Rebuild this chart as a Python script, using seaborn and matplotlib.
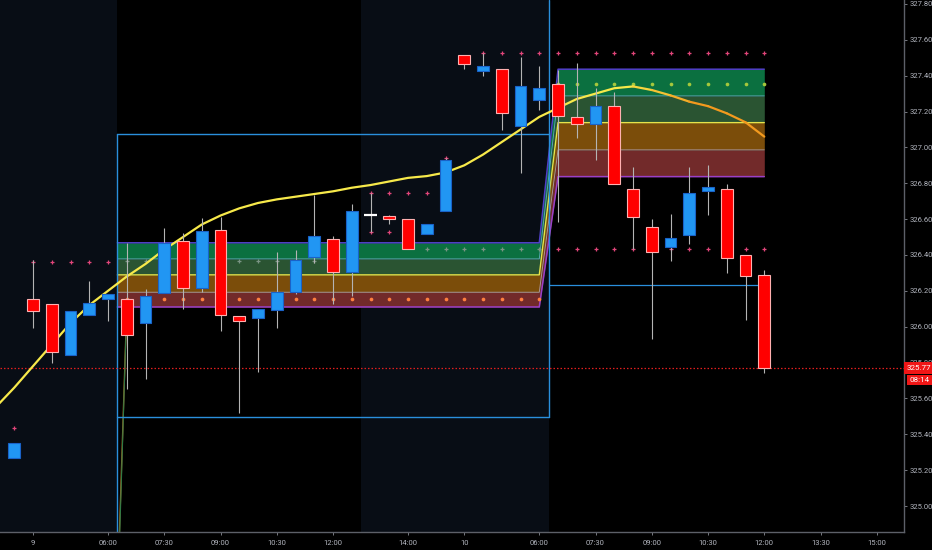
import numpy as np
import pandas as pd
import matplotlib
matplotlib.use("Agg")
import matplotlib.pyplot as plt
import seaborn as sns
from matplotlib.collections import LineCollection
from matplotlib.colors import to_rgb

# ---------------- data ----------------
bars = list(range(-5, 36))
opens = [325.27, 326.155, 326.124, 325.84, 326.065, 326.155,
         326.155, 326.02, 326.19, 326.476, 326.216, 326.537, 326.06, 326.046, 326.095, 326.194,
         326.389, 326.488, 326.305, 326.623, 326.62, 326.598, 326.515, 326.646, 327.515, 327.427,
         327.435, 327.122, 327.265, 327.353, 327.167, 327.13, 327.231, 326.77, 326.558, 326.447,
         326.51, 326.756, 326.77, 326.398, 326.29]
highs = [325.35, 326.372, 326.124, 326.09, 326.255, 326.184,
         326.468, 326.21, 326.55, 326.52, 326.607, 326.61, 326.06, 326.10, 326.417, 326.428,
         326.735, 326.507, 326.687, 326.748, 326.625, 326.598, 326.574, 326.94, 327.515, 327.525,
         327.435, 327.505, 327.454, 327.43, 327.47, 327.333, 327.31, 326.893, 326.60, 326.629,
         326.893, 326.902, 326.797, 326.398, 326.316]
lows = [325.27, 325.993, 325.80, 325.84, 326.065, 326.03,
        325.65, 325.71, 326.19, 326.10, 326.194, 325.976, 325.52, 325.75, 325.993, 326.18,
        326.355, 326.124, 326.17, 326.527, 326.57, 326.434, 326.515, 326.646, 327.435, 327.40,
        327.098, 326.857, 327.21, 326.585, 327.05, 326.928, 326.797, 326.434, 325.93, 326.364,
        326.462, 326.625, 326.302, 326.04, 325.74]
closes = [325.35, 326.09, 325.859, 326.09, 326.13, 326.184,
          325.954, 326.17, 326.467, 326.214, 326.534, 326.065, 326.03, 326.10, 326.192, 326.37,
          326.506, 326.305, 326.645, 326.623, 326.598, 326.434, 326.574, 326.928, 327.464, 327.454,
          327.192, 327.341, 327.333, 327.173, 327.131, 327.231, 326.797, 326.61, 326.417, 326.494,
          326.746, 326.78, 326.384, 326.284, 325.77]

ma_bars = list(range(-6, 36))
ma_vals = [325.55, 325.66, 325.78, 325.90, 326.02, 326.12, 326.20, 326.28, 326.35, 326.43,
           326.50, 326.57, 326.62, 326.66, 326.69, 326.71, 326.725, 326.74, 326.755, 326.775,
           326.79, 326.81, 326.83, 326.84, 326.86, 326.90, 326.96, 327.03, 327.10, 327.17,
           327.22, 327.27, 327.30, 327.33, 327.34, 327.32, 327.29, 327.255, 327.23, 327.19,
           327.14, 327.06]

tick_bars = [-4, 0, 3, 6, 9, 12, 16, 19, 23, 26, 29, 32, 35, 38, 41]
tick_labels = ["9", "06:00", "07:30", "09:00", "10:30", "12:00", "14:00", "10",
               "06:00", "07:30", "09:00", "10:30", "12:00", "13:30", "15:00"]
price_ticks = [325.0, 325.2, 325.4, 325.6, 325.8, 326.0, 326.2, 326.4, 326.6,
               326.8, 327.0, 327.2, 327.4, 327.6, 327.8]

zone1_levels = [326.468, 326.378, 326.289, 326.192, 326.110]
zone2_levels = [327.436, 327.287, 327.138, 326.986, 326.837]
zone1_bars = [0.5] + list(range(1, 24))
zone2_bars = list(range(24, 36))

box1 = {"x0": 0.5, "x1": 23.5, "top": 327.073, "bottom": 325.498}
box2 = {"x0": 23.5, "x1": 34.7, "bottom": 326.231}
shade_spans = [(-10, 0.5), (13.5, 23.5)]

pink_pts = ([(-5, 325.437)] + [(b, 326.363) for b in range(-4, 1)]
            + [(b, 326.748) for b in range(14, 18)] + [(b, 326.527) for b in (14, 15)]
            + [(18, 326.94)]
            + [(b, 327.525) for b in range(20, 36)] + [(b, 326.435) for b in range(24, 36)])
gray_pts = [(b, 326.366) for b in range(1, 14)] + [(b, 326.434) for b in range(17, 24)]
orange_pts = [(b, 326.155) for b in range(1, 24)]
lime_pts = [(b, 327.353) for b in range(24, 36)]

last_price = 325.77
countdown = "08:14"

# ---------------- style ----------------
sns.set_theme(style="dark", rc={"axes.facecolor": "black", "figure.facecolor": "black",
                                "savefig.facecolor": "black"})
plt.rcParams['font.family'] = ['Roboto', 'DejaVu Sans']

fig = plt.figure(figsize=(9.32, 5.5), dpi=100)
ax = fig.add_axes([0, 18 / 550, 904 / 932, 532 / 550])
ax.set_facecolor("black")
ax.set_xlim(-5.76, 42.45)
ax.set_ylim(324.855, 327.822)

for a, b in shade_spans:
    ax.axvspan(a, b, color="#080d15", lw=0, zorder=0)

# zones
band_fill = ['#0b7040', '#2a5432', '#7b4d0a', '#722a2a']
band_line = ['#5040c8', '#5aa6b0', '#e6e34a', '#a89498', '#9a40c8']
band_lw = [1.1, 0.7, 1.0, 0.7, 1.1]
zx = np.array(zone1_bars + zone2_bars, dtype=float)
levels = [np.array([zone1_levels[k]] * len(zone1_bars) + [zone2_levels[k]] * len(zone2_bars))
          for k in range(5)]
for k in range(4):
    ax.fill_between(zx, levels[k], levels[k + 1], color=band_fill[k], lw=0, zorder=1)
for k in range(5):
    ax.plot(zx, levels[k], color=band_line[k], lw=band_lw[k], zorder=1.2)
# entry sliver from prior session
ax.plot([0.0, 1.0], [322.9, zone1_levels[-1]], color="#b06a20", lw=1.0, zorder=1.1)
ax.plot([0.05, 1.0], [322.9, zone1_levels[-1]], color="#2f7a45", lw=0.8, zorder=1.1)

# range boxes
bc = "#2a8fdc"
ax.plot([box1["x0"], box1["x1"]], [box1["top"]] * 2, color=bc, lw=1.0, zorder=1.5)
ax.plot([box1["x0"], box1["x1"]], [box1["bottom"]] * 2, color=bc, lw=1.0, zorder=1.5)
ax.plot([box1["x0"]] * 2, [324.855, box1["top"]], color=bc, lw=1.0, zorder=1.5)
ax.plot([box1["x1"]] * 2, [box1["bottom"], 327.822], color=bc, lw=1.0, zorder=1.5)
ax.plot([box2["x0"], box2["x1"]], [box2["bottom"]] * 2, color=bc, lw=0.9, zorder=1.5)

# markers
def pts_df(pts):
    return pd.DataFrame(pts, columns=["bar", "price"])

sns.scatterplot(data=pts_df(pink_pts), x="bar", y="price", marker="+", s=9,
                color="#e2457a", linewidth=0.9, ax=ax, zorder=2, legend=False)
sns.scatterplot(data=pts_df(gray_pts), x="bar", y="price", marker="+", s=9,
                color="#7a9484", linewidth=0.9, ax=ax, zorder=2, legend=False)
sns.scatterplot(data=pts_df(orange_pts), x="bar", y="price", marker="o", s=7,
                color="#ff8040", linewidth=0, ax=ax, zorder=2, legend=False)
sns.scatterplot(data=pts_df(lime_pts), x="bar", y="price", marker="o", s=7,
                color="#a5c83c", linewidth=0, ax=ax, zorder=2, legend=False)

# last price line
ax.axhline(last_price, color="#e01e1e", lw=0.9, ls=(0, (1.2, 1.6)), zorder=2.2)

# moving average
ma = pd.DataFrame({"bar": ma_bars, "ma": ma_vals})
peak = int(np.argmax(ma_vals))
sns.lineplot(data=ma.iloc[:peak + 1], x="bar", y="ma", color="#f7e94a", lw=1.6,
             ax=ax, zorder=3, sort=False)
xs = np.array(ma_bars[peak:], dtype=float)
ys = np.array(ma_vals[peak:])
segs = [[(xs[i], ys[i]), (xs[i + 1], ys[i + 1])] for i in range(len(xs) - 1)]
c0, c1 = np.array(to_rgb("#f7e94a")), np.array(to_rgb("#f39a1e"))
tcol = [tuple(c0 + (c1 - c0) * min(1.0, (i + 1) / 4)) for i in range(len(segs))]
ax.add_collection(LineCollection(segs, colors=tcol, linewidths=1.6, zorder=3,
                                 capstyle="round"))

# candles
df = pd.DataFrame({"bar": bars, "o": opens, "h": highs, "l": lows, "c": closes})
ax.vlines(df["bar"], df["l"], df["h"], color="#b4b4b4", lw=0.8, zorder=3.5)
for _, r in df.iterrows():
    body = abs(r.c - r.o)
    if body < 0.004:
        ax.hlines(r.c, r.bar - 0.33, r.bar + 0.33, color="white", lw=1.6, zorder=4)
        continue
    up = r.c > r.o
    ax.bar(r.bar, body, bottom=min(r.o, r.c), width=0.62,
           color="#2196f3" if up else "#ff0000",
           edgecolor="#1a62c8" if up else "#ffb0b0", linewidth=0.8, zorder=4)

# axes
ax.yaxis.tick_right()
ax.set_yticks(price_ticks)
ax.set_yticklabels([f"{p:.2f}" for p in price_ticks])
ax.set_xticks(tick_bars)
ax.set_xticklabels(tick_labels)
ax.tick_params(axis="both", colors="#8a8d95", labelcolor="#b2b5be", labelsize=5.5,
               length=2.5, width=0.6, direction="out", pad=1.5)
ax.tick_params(axis="x", bottom=True, pad=3)
ax.tick_params(axis="y", right=True, left=False)
for s in ("top", "left"):
    ax.spines[s].set_visible(False)
for s in ("right", "bottom"):
    ax.spines[s].set_visible(True)
    ax.spines[s].set_color("#5d6068")
    ax.spines[s].set_linewidth(1.0)
ax.set_xlabel("")
ax.set_ylabel("")
ax.grid(False)

# price tag + countdown
ytr = ax.get_yaxis_transform()
ax.text(1.003, last_price, f"{last_price:.2f}", transform=ytr, ha="left", va="center",
        fontsize=5.8, color="white", clip_on=False, zorder=10,
        bbox=dict(boxstyle="square,pad=0.32", fc="#f01616", ec="none"))
ax.text(1.006, last_price - 0.068, countdown, transform=ytr, ha="left", va="center",
        fontsize=5.8, color="white", clip_on=False, zorder=10,
        bbox=dict(boxstyle="square,pad=0.28", fc="#f01616", ec="none"))

fig.savefig("out.png", dpi=100, facecolor="black")
